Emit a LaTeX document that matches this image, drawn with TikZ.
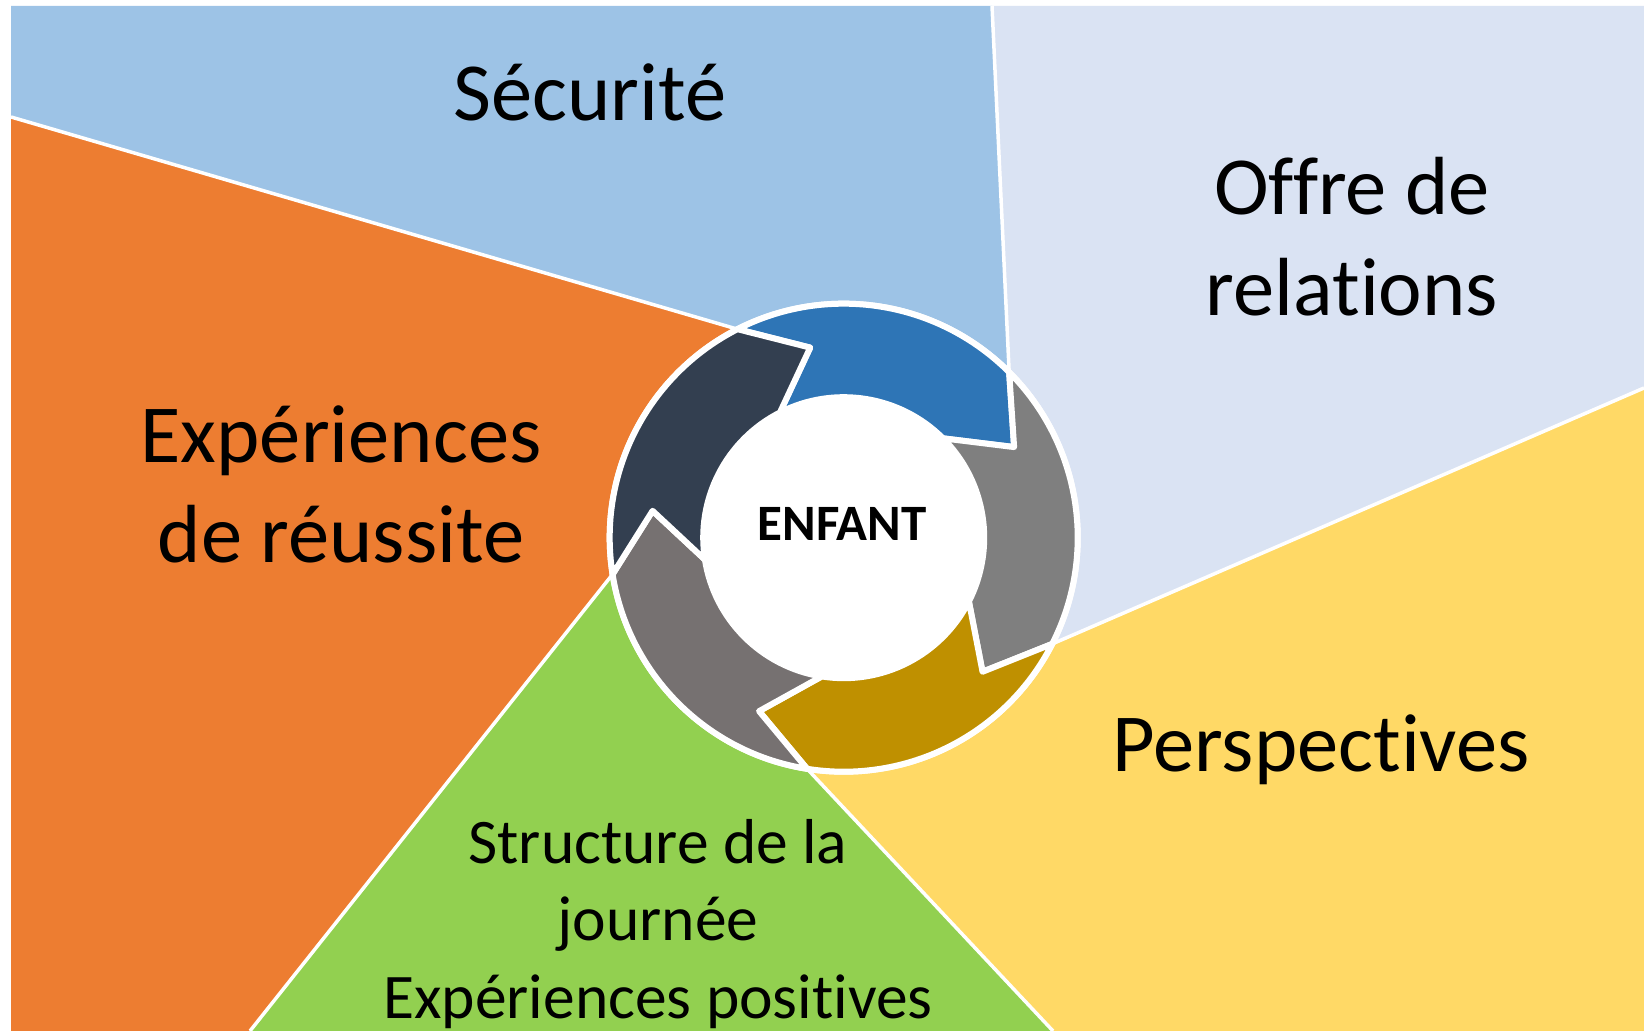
\documentclass[tikz,border=0pt]{standalone}
\usepackage{fontspec}
\setmainfont{Carlito}[Ligatures=NoCommon]

\definecolor{secblue}{HTML}{9DC3E6}
\definecolor{seclav}{HTML}{DAE3F3}
\definecolor{secyellow}{HTML}{FFD966}
\definecolor{secgreen}{HTML}{92D050}
\definecolor{secorange}{HTML}{ED7D31}
\definecolor{arrblue}{HTML}{2E75B6}
\definecolor{arrgray}{HTML}{7F7F7F}
\definecolor{arrgold}{HTML}{BF9000}
\definecolor{arrtaupe}{HTML}{767171}
\definecolor{arrnavy}{HTML}{333F50}

\tikzset{
    border/.style={white, line width=1.75pt},
    ringarrow/.style={draw=white, line width=3pt, line join=round},
    biglabel/.style={font=\fontsize{41.25pt}{50.3pt}\selectfont, align=center, inner sep=0pt},
    smalllabel/.style={font=\fontsize{31.75pt}{38.75pt}\selectfont, align=center, inner sep=0pt},
}

\begin{document}
\begin{tikzpicture}[x=0.5pt, y=0.5pt]
    \useasboundingbox (0,0) rectangle (1644,1031);

    % Centre of the cycle and the points where the borders meet it
    \coordinate (C) at (843.7,493.3);
    \foreach \a [count=\i] in {117,45,-27,-99,-171} {
        \path (C) ++(\a:234) coordinate (p\i);
    }

    % Points where the borders leave the picture
    \coordinate (e1) at (11,914);
    \coordinate (e2) at (992,1025);
    \coordinate (e3) at (1644,643);
    \coordinate (e4) at (1053,0);
    \coordinate (e5) at (250,0);

    % Fill the five sectors
    \fill[secblue] (C) -- (p1) -- (e1) -- (11,1025) -- (e2) -- (p2) -- cycle;
    \fill[seclav] (C) -- (p2) -- (e2) -- (1644,1025) -- (e3) -- (p3) -- cycle;
    \fill[secyellow] (C) -- (p3) -- (e3) -- (1644,0) -- (e4) -- (p4) -- cycle;
    \fill[secgreen] (C) -- (p4) -- (e4) -- (e5) -- (p5) -- cycle;
    \fill[secorange] (C) -- (p5) -- (e5) -- (11,0) -- (e1) -- (p1) -- cycle;

    % White borders between the sectors
    \foreach \i in {1,...,5} {
        \draw[border] (p\i) -- (e\i);
    }

    % White disc behind the cycle
    \fill[white] (C) circle[radius=237];

    % Five arrows of the cycle
    \begin{scope}[shift={(C)}]
        \foreach \a/\col in {117/arrblue, 45/arrgray, -27/arrgold, -99/arrtaupe, -171/arrnavy} {
            \pgfmathsetmacro{\b}{\a-72}
            \draw[ringarrow, fill=\col] (\a:234) arc[start angle=\a, end angle=\b, radius=234]
                -- (\b-17:193) -- (\b:140.5) arc[start angle=\b, end angle=\a, radius=140.5]
                -- (\a-17:193) -- cycle;
        }
    \end{scope}

    % Labels
    \node[biglabel, anchor=base] (secu) at (590,910) {Sécurité};
    \node[biglabel] (offre) at (1352,794.5) {Offre de\\relations};
    \node[biglabel] (exper) at (341,546.5) {Expériences\\de réussite};
    \node[biglabel, anchor=base] (persp) at (1321,259.3) {Perspectives};
    \node[smalllabel] (struct) at (658,107) {Structure de la\\journée\\Expériences positives};
    \node[font=\fontsize{25.5pt}{30pt}\selectfont\bfseries, anchor=base] (enfant) at (842,490) {ENFANT};

\end{tikzpicture}
\end{document}
